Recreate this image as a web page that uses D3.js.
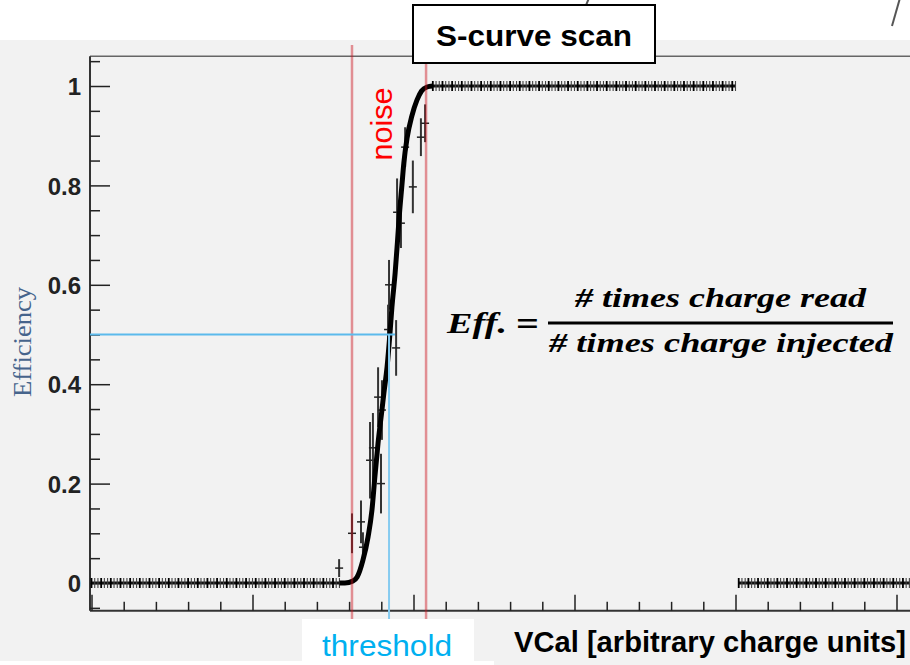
<!DOCTYPE html>
<html>
<head>
<meta charset="utf-8">
<script src="https://cdn.jsdelivr.net/npm/d3@7"></script>
<style>
    body { margin: 0; background: #fff; }
    svg { display: block; }
    .tick text { font-family: "Liberation Sans", Arial, sans-serif; font-weight: bold; font-size: 24px; fill: #222; }
</style>
</head>
<body>
<svg id="chart" width="910" height="665"></svg>
<script>
    // flat parts of the scan (one point per VCal step)
    const plateaus = [
        { first: 0, last: 77, eff: 0 },
        { first: 106, last: 200, eff: 1 },
        { first: 201, last: 256, eff: 0 },
    ];

    // thick curve through the rising edge
    const fitVcal = [77, 78.7, 81.2, 82.5, 84.3, 85.9, 87.1, 88.0, 89.0, 90.2, 90.8, 91.8, 92.7, 93.3, 94.3, 95.0, 95.6, 96.4, 97.0, 98.0, 99.5, 101.1, 102.5, 104.2, 106];
    const fitEff = [0, 0, 0.004, 0.012, 0.046, 0.093, 0.147, 0.213, 0.282, 0.348, 0.382, 0.435, 0.503, 0.555, 0.624, 0.685, 0.74, 0.8, 0.845, 0.895, 0.94, 0.972, 0.99, 0.998, 1];

    // scattered points with error bars on the edge
    const ptVcal = [76.9, 80.9, 83.7, 84.3, 86.5, 87.4, 89.9, 89.0, 90.2, 92.1, 92.4, 94.6, 94.9, 96.1, 97.4, 99.8, 102.3, 103.6];
    const ptEff = [0.03, 0.1, 0.123, 0.072, 0.247, 0.272, 0.2, 0.374, 0.348, 0.51, 0.6, 0.473, 0.746, 0.724, 0.877, 0.797, 0.897, 0.925];
    const ptErr = [0.018, 0.04, 0.043, 0.03, 0.077, 0.07, 0.06, 0.06, 0.06, 0.05, 0.05, 0.056, 0.068, 0.05, 0.04, 0.053, 0.038, 0.038];

    const yMajor = [0, 0.2, 0.4, 0.6, 0.8, 1];
    const yMinor = [-0.05, 0.05, 0.1, 0.15, 0.25, 0.3, 0.35, 0.45, 0.5, 0.55, 0.65, 0.7, 0.75, 0.85, 0.9, 0.95, 1.05];
    const xMajor = [0, 50, 100, 150, 200, 250];
    const xMinor = [10, 20, 30, 40, 60, 70, 80, 90, 110, 120, 130, 140, 160, 170, 180, 190, 210, 220, 230, 240];

    const noiseLow = 80.9, noiseHigh = 103.9, threshold = 92.4, halfEff = 0.5;

    const svg = d3.select("#chart");
    const x = d3.scaleLinear().domain([0, 260]).range([91.5, 91.5 + 260 * 3.22]);
    const y = d3.scaleLinear().domain([0, 1]).range([583, 86]);
    const frameLeft = 90, frameTop = y(1.06), frameBottom = y(-0.056);

    // page background
    svg.append("rect").attr("x", 0).attr("y", 40).attr("width", 910).attr("height", 625).attr("fill", "#f2f2f2");
    svg.append("rect").attr("x", 0).attr("y", 661).attr("width", 494).attr("height", 4).attr("fill", "#fff");

    // bits of the slide text above
    svg.append("line").attr("x1", 582).attr("y1", 15).attr("x2", 589).attr("y2", -2).attr("stroke", "#555").attr("stroke-width", 2);
    svg.append("line").attr("x1", 892).attr("y1", 26).attr("x2", 900).attr("y2", -2).attr("stroke", "#555").attr("stroke-width", 2);

    // frame
    svg.append("line").attr("x1", frameLeft).attr("x2", 910).attr("y1", frameTop).attr("y2", frameTop).attr("stroke", "#666").attr("stroke-width", 1.5);
    svg.append("line").attr("x1", frameLeft).attr("x2", 910).attr("y1", frameBottom).attr("y2", frameBottom).attr("stroke", "#333").attr("stroke-width", 2);
    svg.append("line").attr("x1", frameLeft).attr("x2", frameLeft).attr("y1", frameTop).attr("y2", frameBottom).attr("stroke", "#333").attr("stroke-width", 2);

    // y axis
    const yAxis = svg.append("g").attr("transform", `translate(${frameLeft},0)`)
        .call(d3.axisLeft(y).tickValues(yMajor).tickSize(-20).tickPadding(9).tickFormat(d3.format("~g")));
    yAxis.select(".domain").remove();
    yAxis.selectAll("line").attr("stroke", "#222").attr("stroke-width", 1.5);
    yAxis.selectAll("text").attr("dy", "0.36em");
    svg.append("g").attr("transform", `translate(${frameLeft},0)`)
        .call(d3.axisLeft(y).tickValues(yMinor).tickSize(-10).tickFormat(""))
        .call(g => g.select(".domain").remove())
        .selectAll("line").attr("stroke", "#222").attr("stroke-width", 1.5);

    // x axis (ticks only, pointing up)
    svg.append("g").attr("transform", `translate(0,${frameBottom})`)
        .call(d3.axisBottom(x).tickValues(xMajor).tickSize(-16).tickFormat(""))
        .call(g => g.select(".domain").remove())
        .selectAll("line").attr("stroke", "#222").attr("stroke-width", 1.5);
    svg.append("g").attr("transform", `translate(0,${frameBottom})`)
        .call(d3.axisBottom(x).tickValues(xMinor).tickSize(-9).tickFormat(""))
        .call(g => g.select(".domain").remove())
        .selectAll("line").attr("stroke", "#222").attr("stroke-width", 1.5);

    // plateau points: horizontal run plus a "+" tick at every step
    const data = svg.append("g");
    plateaus.forEach(p => {
        data.append("line")
            .attr("x1", x(p.first)).attr("x2", x(p.last))
            .attr("y1", y(p.eff)).attr("y2", y(p.eff))
            .attr("stroke", "#111").attr("stroke-width", 3);
        data.selectAll(null).data(d3.range(p.first, p.last + 1)).enter().append("line")
            .attr("x1", d => x(d)).attr("x2", d => x(d))
            .attr("y1", y(p.eff) - 5).attr("y2", y(p.eff) + 5)
            .attr("stroke", (d, i) => i % 3 === 0 ? "#000" : "#444")
            .attr("stroke-width", (d, i) => i % 3 === 0 ? 1.8 : 1.1);
    });

    // scattered points with error bars
    const pts = ptVcal.map((v, i) => ({ v, e: ptEff[i], err: ptErr[i] }));
    const ptG = data.selectAll(".pt").data(pts).enter().append("g").attr("class", "pt");
    ptG.append("line")
        .attr("x1", d => x(d.v)).attr("x2", d => x(d.v))
        .attr("y1", d => y(d.e - d.err)).attr("y2", d => y(d.e + d.err))
        .attr("stroke", "#333").attr("stroke-width", 2);
    ptG.append("line")
        .attr("x1", d => x(d.v) - 4).attr("x2", d => x(d.v) + 4)
        .attr("y1", d => y(d.e)).attr("y2", d => y(d.e))
        .attr("stroke", "#222").attr("stroke-width", 1.5);

    // edge curve
    data.append("path")
        .datum(fitVcal.map((v, i) => [v, fitEff[i]]))
        .attr("d", d3.line().x(d => x(d[0])).y(d => y(d[1])).curve(d3.curveMonotoneX))
        .attr("fill", "none").attr("stroke", "#000").attr("stroke-width", 5).attr("stroke-linejoin", "round");

    // noise and threshold lines
    const redLine = "rgba(205,20,30,0.45)";
    svg.append("line").attr("x1", x(noiseLow)).attr("x2", x(noiseLow)).attr("y1", 45).attr("y2", 619)
        .attr("stroke", redLine).attr("stroke-width", 2.5);
    svg.append("line").attr("x1", x(noiseHigh)).attr("x2", x(noiseHigh)).attr("y1", 60).attr("y2", 619)
        .attr("stroke", redLine).attr("stroke-width", 2.5);
    svg.append("line").attr("x1", frameLeft).attr("x2", x(threshold) + 6).attr("y1", y(halfEff)).attr("y2", y(halfEff))
        .attr("stroke", "#5cbaec").attr("stroke-width", 2);
    svg.append("line").attr("x1", x(threshold)).attr("x2", x(threshold)).attr("y1", y(halfEff)).attr("y2", 619)
        .attr("stroke", "#86cbf0").attr("stroke-width", 2);

    // title box
    svg.append("rect").attr("x", 413).attr("y", 5).attr("width", 242).attr("height", 58)
        .attr("fill", "#fff").attr("stroke", "#000").attr("stroke-width", 2);
    svg.append("text").attr("x", 534).attr("y", 46).attr("text-anchor", "middle")
        .attr("font-family", "Liberation Sans, Arial, sans-serif").attr("font-weight", "bold").attr("font-size", 30)
        .attr("textLength", 196).attr("lengthAdjust", "spacingAndGlyphs").text("S-curve scan");

    // noise label
    svg.append("text").attr("transform", "translate(392,124) rotate(-90)").attr("text-anchor", "middle")
        .attr("font-family", "Liberation Sans, Arial, sans-serif").attr("font-size", 30).attr("fill", "#ff0000")
        .attr("textLength", 73).attr("lengthAdjust", "spacingAndGlyphs").text("noise");

    // y title
    svg.append("text").attr("transform", "translate(31,342) rotate(-90)").attr("text-anchor", "middle")
        .attr("font-family", "Liberation Serif, Times New Roman, serif").attr("font-size", 25).attr("fill", "#46648c")
        .attr("textLength", 110).attr("lengthAdjust", "spacingAndGlyphs").text("Efficiency");

    // formula
    const serif = "Liberation Serif, Times New Roman, serif";
    svg.append("text").attr("x", 447).attr("y", 333).attr("font-family", serif).attr("font-style", "italic")
        .attr("font-weight", "bold").attr("font-size", 30).attr("textLength", 60).attr("lengthAdjust", "spacingAndGlyphs").text("Eff.");
    svg.append("text").attr("x", 516).attr("y", 335).attr("font-family", serif).attr("font-weight", "bold")
        .attr("font-size", 34).attr("textLength", 23).attr("lengthAdjust", "spacingAndGlyphs").text("=");
    svg.append("line").attr("x1", 548).attr("x2", 893).attr("y1", 323).attr("y2", 323).attr("stroke", "#000").attr("stroke-width", 3);
    svg.append("text").attr("x", 575).attr("y", 307).attr("font-family", serif).attr("font-style", "italic")
        .attr("font-weight", "bold").attr("font-size", 28).attr("textLength", 291).attr("lengthAdjust", "spacingAndGlyphs").text("# times charge read");
    svg.append("text").attr("x", 549).attr("y", 352).attr("font-family", serif).attr("font-style", "italic")
        .attr("font-weight", "bold").attr("font-size", 28).attr("textLength", 344).attr("lengthAdjust", "spacingAndGlyphs").text("# times charge injected");

    // bottom labels
    svg.append("rect").attr("x", 302).attr("y", 619).attr("width", 172).attr("height", 46).attr("fill", "#fff");
    svg.append("text").attr("x", 322).attr("y", 656).attr("font-family", "Liberation Sans, Arial, sans-serif")
        .attr("font-size", 30).attr("fill", "#00b0f0").attr("textLength", 130).attr("lengthAdjust", "spacingAndGlyphs").text("threshold");
    svg.append("text").attr("x", 514).attr("y", 652).attr("font-family", "Liberation Sans, Arial, sans-serif")
        .attr("font-weight", "bold").attr("font-size", 29).attr("fill", "#000").attr("textLength", 392).attr("lengthAdjust", "spacingAndGlyphs")
        .text("VCal [arbitrary charge units]");
</script>
</body>
</html>
